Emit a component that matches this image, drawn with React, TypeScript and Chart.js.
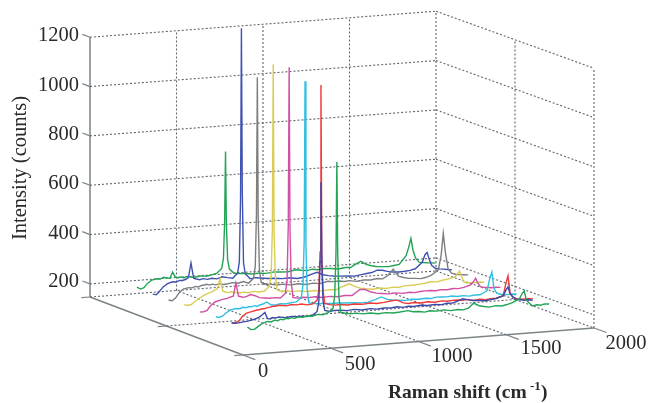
import React, { useEffect, useRef } from "react";
import { Chart, registerables } from "chart.js";

Chart.register(...registerables);

const shifts = [60,80,100,120,145,175,195,215,232,250,265,280,295,310,330,350,375,400,430,460,490,520,548,558,565,570,575,582,592,620,650,680,720,760,805,850,890,930,975,1005,1040,1070,1100,1140,1180,1220,1260,1290,1320,1350,1380,1410,1440,1475,1510,1540,1570,1610,1626,1638,1650,1665,1685,1710,1730,1755,1780];

const green0 = [248,236,236,246,258,264,261,267,264,269,266,271,268,272,268,273,270,274,271,277,274,281,296,350,520,889,510,340,278,273,269,270,265,266,261,263,259,261,264,258,257,253,257,253,256,251,253,250,255,274,262,257,253,257,254,258,264,276,298,308,270,258,244,248,245,249,247];
const blue1 = [240,238,238,240,242,245,249,254,262,272,246,244,249,246,250,247,244,248,245,246,243,245,260,300,460,783,450,300,262,256,259,258,254,257,252,255,251,253,252,254,250,253,250,253,250,252,249,253,252,258,266,260,256,254,251,254,257,266,288,300,272,258,248,244,241,242,239];
const red1 = [240,240,244,262,275,280,283,285,287,288,291,292,295,294,297,295,292,296,293,295,290,291,305,345,500,1177,480,340,290,284,280,281,277,279,275,278,274,276,280,281,268,264,266,262,265,261,264,261,263,263,260,262,256,259,255,258,258,265,315,345,275,258,250,248,245,247,244];
const cyan2 = [240,238,242,254,264,268,266,271,268,272,270,274,270,275,278,285,272,270,274,271,275,276,292,340,520,1168,500,325,268,264,262,261,259,259,256,255,252,253,262,270,258,254,252,248,251,249,251,248,252,251,250,252,248,250,246,249,248,262,310,337,270,250,244,242,240,241,239];
const magenta3 = [236,236,240,258,272,278,281,283,287,290,342,288,285,282,286,291,285,276,273,270,271,268,285,335,560,1201,540,330,266,262,264,261,262,257,259,255,258,256,278,276,264,258,255,251,253,249,251,248,251,252,252,249,252,250,253,251,254,262,275,288,268,252,248,246,244,245,243];
const yellow4 = [240,238,240,250,263,274,280,284,290,296,336,285,280,277,279,275,272,274,270,274,270,272,290,335,520,1189,500,330,272,264,266,261,262,257,259,255,258,255,268,275,262,254,250,246,249,245,248,245,250,250,250,252,254,258,256,261,264,270,280,293,270,246,242,243,240,242,240];
const gray5 = [236,232,242,262,276,280,278,283,280,285,286,288,284,287,283,286,282,284,287,283,288,280,298,345,560,1112,540,330,280,270,268,264,265,260,262,257,260,256,263,260,261,257,259,254,257,255,259,256,268,292,262,255,250,248,245,249,256,275,335,422,345,278,258,252,250,248,246];
const blue6 = [236,232,246,262,274,280,278,283,282,286,292,350,288,284,280,283,279,282,278,285,280,276,295,340,600,1286,620,335,290,268,271,268,264,263,259,260,255,258,268,274,262,257,254,251,250,247,251,254,256,264,262,256,252,250,251,253,258,282,312,321,292,266,254,250,248,245,243];
const green7 = [240,231,236,252,264,268,266,272,268,266,290,270,265,268,264,268,263,263,266,263,267,272,290,330,480,763,470,325,285,266,264,262,258,259,256,260,257,256,262,258,255,259,255,258,256,252,256,254,266,276,262,255,250,248,246,249,252,285,320,354,305,272,255,252,250,248,246];

const seriesValues = [green0, blue1, red1, cyan2, magenta3, yellow4, gray5, blue6, green7];
const seriesDepths = [0.4, 1.43, 1.43, 2.46, 3.49, 4.52, 5.55, 6.58, 7.61];
const seriesColors = ["#22a455", "#3a48a8", "#ee3a3a", "#2fbfe2", "#d24fa6", "#d9cd55", "#7c7f82", "#3f52b2", "#22a455"];

const intensityTicks = [200, 400, 600, 800, 1000, 1200];
const shiftTicks = [0, 500, 1000, 1500, 2000];
const depthTicks = [0, 5, 10];

const FRONT = [243, 355];
const RIGHT = [594, 328];
const BACK = [436, 271];
const LEFT = [90, 297];
const Z_FLOOR = 147;
const Z_TOP = 1200;
const Z_SCALE = 0.2467;

function project(s: number, d: number, z: number) {
  const u = s / 2000;
  const v = d / 10;
  const mix = (i: number) =>
    (1 - u) * (1 - v) * FRONT[i] + u * (1 - v) * RIGHT[i] + u * v * BACK[i] + (1 - u) * v * LEFT[i];
  return { x: mix(0), y: mix(1) - (z - Z_FLOOR) * Z_SCALE };
}

const GRID = "#5f6468";
const AXIS = "#7d8488";

function seg(a: [number, number, number], b: [number, number, number], color: string, width: number, dash: number[]) {
  return {
    type: "line" as const,
    data: [project(a[0], a[1], a[2]), project(b[0], b[1], b[2])],
    borderColor: color,
    borderWidth: width,
    borderDash: dash,
    pointRadius: 0,
    showLine: true,
    tension: 0,
    order: 20,
  };
}

const TICK_FONT = "20.5px 'Liberation Serif'";
const textItems = [
  ...["1200", "1000", "800", "600", "400", "200"].map((t, i) => ({ t, x: 79, y: [36, 85.5, 135, 184, 233.5, 282][i], align: "right", font: TICK_FONT, rot: 0 })),
  { t: "0", x: 263, y: 372, align: "center", font: TICK_FONT, rot: 0 },
  { t: "500", x: 360, y: 365, align: "center", font: TICK_FONT, rot: 0 },
  { t: "1000", x: 452, y: 357, align: "center", font: TICK_FONT, rot: 0 },
  { t: "1500", x: 541, y: 349, align: "center", font: TICK_FONT, rot: 0 },
  { t: "2000", x: 626, y: 344, align: "center", font: TICK_FONT, rot: 0 },
  { t: "Raman shift (cm", x: 388, y: 393, align: "left", font: "bold 19.5px 'Liberation Serif'", rot: 0 },
  { t: "-1", x: 530, y: 387, align: "left", font: "bold 13px 'Liberation Serif'", rot: 0 },
  { t: ")", x: 541, y: 393, align: "left", font: "bold 19.5px 'Liberation Serif'", rot: 0 },
  { t: "Intensity (counts)", x: 21, y: 168, align: "center", font: "20.5px 'Liberation Serif'", rot: -Math.PI / 2 },
];

const labelsPlugin = {
  id: "labels3d",
  afterDraw(chart: any) {
    const ctx = chart.ctx;
    ctx.save();
    ctx.fillStyle = "#2a2a2a";
    ctx.textBaseline = "middle";
    for (const it of textItems) {
      ctx.save();
      ctx.translate(it.x, it.y);
      ctx.rotate(it.rot);
      ctx.font = it.font;
      ctx.textAlign = it.align;
      ctx.fillText(it.t, 0, 0);
      ctx.restore();
    }
    ctx.restore();
  },
};

export default function App() {
  const ref = useRef<HTMLCanvasElement>(null);
  useEffect(() => {
    document.body.style.margin = "0";
    const dash = [2, 2];
    const frame: any[] = [];
    for (const z of intensityTicks) {
      frame.push(seg([0, 10, z], [2000, 10, z], GRID, 1.1, dash));
      frame.push(seg([2000, 10, z], [2000, 0, z], GRID, 1.1, dash));
      frame.push(seg([0, 10, z], [0, 10.5, z], AXIS, 1.2, []));
    }
    frame.push(seg([0, 10, Z_FLOOR], [2000, 10, Z_FLOOR], GRID, 1.1, dash));
    frame.push(seg([2000, 10, Z_FLOOR], [2000, 0, Z_FLOOR], GRID, 1.1, dash));
    for (const s of shiftTicks) {
      if (s > 0) frame.push(seg([s, 10, Z_FLOOR], [s, 10, Z_TOP], GRID, 1.1, dash));
      if (s > 0 && s < 2000) frame.push(seg([s, 0, Z_FLOOR], [s, 10, Z_FLOOR], GRID, 1.1, dash));
      frame.push(seg([s, 0, Z_FLOOR], [s, -0.8, Z_FLOOR], AXIS, 1.2, []));
    }
    for (const d of depthTicks) {
      if (d < 10) frame.push(seg([2000, d, Z_FLOOR], [2000, d, Z_TOP], GRID, 1.1, dash));
      if (d === 5) frame.push(seg([0, d, Z_FLOOR], [2000, d, Z_FLOOR], GRID, 1.1, dash));
      frame.push(seg([0, d, Z_FLOOR], [-50, d, Z_FLOOR], AXIS, 1.2, []));
    }
    frame.push(seg([0, 10, Z_FLOOR], [0, 10, Z_TOP], "#9aa2a6", 2, []));
    frame.push(seg([0, 0, Z_FLOOR], [0, 10, Z_FLOOR], AXIS, 1.6, []));
    frame.push(seg([0, 0, Z_FLOOR], [2000, 0, Z_FLOOR], AXIS, 1.6, []));

    const spectra = seriesValues.map((vals, i) => ({
      type: "line" as const,
      data: vals.map((z, j) => project(shifts[j], seriesDepths[i], z)),
      borderColor: seriesColors[i],
      borderWidth: 1.4,
      pointRadius: 0,
      showLine: true,
      tension: 0,
      order: i,
    }));

    const chart = new Chart(ref.current as HTMLCanvasElement, {
      type: "scatter",
      data: { datasets: [...spectra, ...frame] as any },
      options: {
        animation: false,
        responsive: false,
        layout: { padding: 0 },
        plugins: { legend: { display: false }, tooltip: { enabled: false } },
        scales: {
          x: { type: "linear", min: 0, max: 648, display: false },
          y: { type: "linear", min: 0, max: 403, reverse: true, display: false },
        },
      },
      plugins: [labelsPlugin],
    });
    return () => chart.destroy();
  }, []);
  return (
    <div style={{ position: "absolute", left: 0, top: 0, width: 648, height: 403, background: "#fff" }}>
      <canvas ref={ref} width={648} height={403} style={{ display: "block", filter: "blur(0.35px)" }} />
    </div>
  );
}
